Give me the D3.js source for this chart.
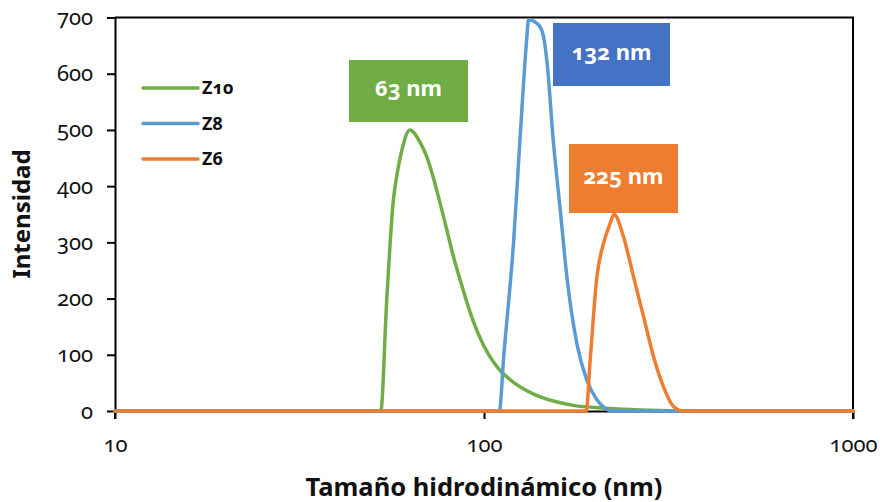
<!DOCTYPE html>
<html>
<head>
<meta charset="utf-8">
<script src="https://cdn.jsdelivr.net/npm/d3@7"></script>
<style>
  html, body { margin: 0; padding: 0; background: #fff; }
  svg { display: block; font-family: "Noto Sans", "Open Sans", sans-serif; font-variant-numeric: oldstyle-nums; }
</style>
</head>
<body>
<svg id="chart" width="880" height="502"></svg>
<script>
// Hydrodynamic size distributions (DLS): size in nm, intensity
const seriesNames = ["Z10", "Z8", "Z6"];
const seriesColors = ["#70AD47", "#5B9BD5", "#ED7D31"];

const z10Size = [10, 52.5, 54.5, 56.8, 58.0, 59.9, 63, 67.1, 70.0, 72.9, 76.1, 79.3, 82.7, 86.2, 89.9, 93.6, 99.7, 106.1, 110.6, 120.2, 130.7, 142, 160, 174.4, 215, 265, 385, 1000];
const z10Int  = [0, 0, 197, 375, 417, 464, 500, 478, 452, 415, 369, 322, 274, 233, 193, 159, 117, 87, 72, 51, 36, 25, 15, 10, 5, 2, 0, 0];

const z8Size = [10, 110.1, 112.9, 120.2, 126.6, 130.7, 132, 140.5, 145, 148, 154.3, 160.9, 167.7, 178.5, 190, 202.3, 213, 222.6, 1000];
const z8Int  = [0, 0, 91, 298, 535, 666, 696, 687, 666, 624, 476, 358, 239, 120, 55, 20, 5, 0, 0];

const z6Size = [10, 189.2, 194, 202.3, 210.8, 219.8, 225, 238.8, 254.2, 270.6, 288, 306.5, 326.3, 346.7, 1000];
const z6Int  = [0, 0, 91, 239, 298, 334, 350, 310, 239, 168, 97, 43, 8, 0, 0];

// Peak labels
const peakLabels = ["63 nm", "132 nm", "225 nm"];
const peakBoxColors = ["#70AD47", "#4472C4", "#ED7D31"];

const xTicks = [10, 100, 1000];
const yTicks = [0, 100, 200, 300, 400, 500, 600, 700];

const svg = d3.select("#chart");
const margin = { left: 115, right: 27, top: 17.5, bottom: 91 };
const W = 880, H = 502;

const x = d3.scaleLog().domain([10, 1000]).range([margin.left, W - margin.right]);
const y = d3.scaleLinear().domain([0, 700]).range([H - margin.bottom, margin.top]);

const series = [
  { name: seriesNames[0], color: seriesColors[0], sizes: z10Size, vals: z10Int },
  { name: seriesNames[1], color: seriesColors[1], sizes: z8Size, vals: z8Int },
  { name: seriesNames[2], color: seriesColors[2], sizes: z6Size, vals: z6Int }
];

// Frame: top and right borders
svg.append("path")
  .attr("d", `M${x(10)},${y(700)}H${x(1000)}V${y(0) + 8}`)
  .attr("fill", "none").attr("stroke", "#000").attr("stroke-width", 2);

// Axes
const yAxis = svg.append("g")
  .attr("transform", `translate(${x(10)},0)`)
  .call(d3.axisLeft(y).tickValues(yTicks).tickSize(8).tickSizeOuter(0).tickPadding(14));
const xAxis = svg.append("g")
  .attr("transform", `translate(0,${y(0)})`)
  .call(d3.axisBottom(x).tickValues(xTicks).tickFormat(d3.format("d")).tickSize(8).tickSizeOuter(0).tickPadding(17));

[yAxis, xAxis].forEach(g => {
  g.select(".domain").attr("stroke", "#000").attr("stroke-width", 2);
  g.selectAll(".tick line").attr("stroke", "#000").attr("stroke-width", 2);
  g.selectAll(".tick text").attr("fill", "#111").attr("font-size", 22)
    .attr("font-family", "'Noto Sans', sans-serif");
});
// Left axis extends down to the first x tick
svg.append("line")
  .attr("x1", x(10)).attr("x2", x(10)).attr("y1", y(0)).attr("y2", y(0) + 8)
  .attr("stroke", "#000").attr("stroke-width", 2);

// Curves
const line = d3.line()
  .x(d => x(d[0]))
  .y(d => y(d[1]))
  .curve(d3.curveMonotoneX);

series.forEach(s => {
  const pts = s.sizes.map((v, i) => [v, s.vals[i]]);
  svg.append("path")
    .datum(pts)
    .attr("d", line)
    .attr("fill", "none")
    .attr("stroke", s.color)
    .attr("stroke-width", 3.5)
    .attr("stroke-linejoin", "round")
    .attr("stroke-linecap", "round");
});

// Peak label boxes
const boxes = [
  { x0: 349, y0: 60, w: 119, h: 62 },
  { x0: 553, y0: 23, w: 117, h: 63 },
  { x0: 569, y0: 144, w: 109, h: 69 }
];
boxes.forEach((b, i) => {
  svg.append("rect")
    .attr("x", b.x0).attr("y", b.y0).attr("width", b.w).attr("height", b.h)
    .attr("fill", peakBoxColors[i]);
  svg.append("text")
    .attr("x", b.x0 + b.w / 2).attr("y", b.y0 + b.h / 2 + 5)
    .attr("text-anchor", "middle")
    .attr("fill", "#fff")
    .attr("font-weight", "bold")
    .attr("font-size", 22)
    .text(peakLabels[i]);
});

// Legend
const legend = svg.append("g");
series.forEach((s, i) => {
  const ly = 88 + i * 35.5;
  legend.append("line")
    .attr("x1", 143).attr("x2", 198).attr("y1", ly).attr("y2", ly)
    .attr("stroke", s.color).attr("stroke-width", 3.5).attr("stroke-linecap", "round");
  legend.append("text")
    .attr("x", 202).attr("y", ly + 6)
    .attr("font-size", 18).attr("font-weight", "bold").attr("fill", "#111")
    .text(s.name);
});

// Axis titles
svg.append("text")
  .attr("x", 484).attr("y", 496)
  .attr("text-anchor", "middle")
  .attr("font-size", 25.5).attr("font-weight", "bold").attr("fill", "#111")
  .text("Tamaño hidrodinámico (nm)");
svg.append("text")
  .attr("transform", "translate(30,214) rotate(-90)")
  .attr("text-anchor", "middle")
  .attr("font-size", 24).attr("font-weight", "bold").attr("fill", "#111")
  .text("Intensidad");
</script>
</body>
</html>
